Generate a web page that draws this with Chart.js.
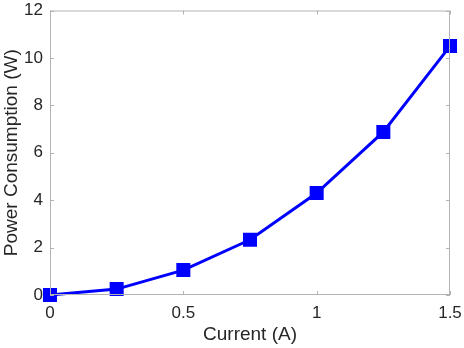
<!DOCTYPE html>
<html>
<head>
<meta charset="utf-8">
<script src="https://cdn.jsdelivr.net/npm/chart.js@4/dist/chart.umd.min.js"></script>
<style>
  html, body { margin: 0; padding: 0; background: #fff; }
  #wrap { width: 464px; height: 348px; }
</style>
</head>
<body>
<div id="wrap"><canvas id="chart"></canvas></div>
<script>
const current = [0, 0.25, 0.5, 0.75, 1.0, 1.25, 1.5];
const power = [0, 0.25, 1.05, 2.33, 4.3, 6.88, 10.5];
const xTicks = [0, 0.5, 1, 1.5];
const yTicks = [0, 2, 4, 6, 8, 10, 12];

const axisGray = '#b3b3b3';
const textColor = '#262626';

// MATLAB style box and inward ticks
const boxPlugin = {
  id: 'box',
  afterDraw(chart) {
    const { ctx, chartArea: a, scales } = chart;
    ctx.save();
    ctx.strokeStyle = axisGray;
    ctx.lineWidth = 1;
    ctx.strokeRect(a.left + 0.5, a.top + 0.5, a.right - a.left - 1, a.bottom - a.top - 1);
    ctx.beginPath();
    xTicks.forEach(v => {
      const px = Math.round(scales.x.getPixelForValue(v)) + 0.5;
      ctx.moveTo(px, a.bottom); ctx.lineTo(px, a.bottom - 4);
      ctx.moveTo(px, a.top); ctx.lineTo(px, a.top + 4);
    });
    yTicks.forEach(v => {
      const py = Math.round(scales.y.getPixelForValue(v)) + 0.5;
      ctx.moveTo(a.left, py); ctx.lineTo(a.left + 4, py);
      ctx.moveTo(a.right, py); ctx.lineTo(a.right - 4, py);
    });
    ctx.stroke();
    ctx.restore();
  }
};

new Chart(document.getElementById('chart'), {
  type: 'line',
  data: {
    datasets: [{
      data: current.map((c, i) => ({ x: c, y: power[i] })),
      borderColor: '#0000ff',
      backgroundColor: '#0000ff',
      borderWidth: 3,
      pointStyle: 'rect',
      pointRadius: 8.5,
      pointBorderWidth: 2,
      pointHoverRadius: 8.5,
      tension: 0,
      clip: false
    }]
  },
  options: {
    responsive: true,
    maintainAspectRatio: false,
    animation: false,
    events: [],
    layout: { padding: { top: 8, right: 14, left: 0, bottom: 0 } },
    plugins: { legend: { display: false }, tooltip: { enabled: false } },
    scales: {
      x: {
        type: 'linear',
        min: 0, max: 1.5,
        afterBuildTicks: s => { s.ticks = xTicks.map(v => ({ value: v })); },
        afterFit: s => { s.height = 53; s.paddingLeft = 0; s.paddingRight = 0; },
        grid: { display: false, drawTicks: false },
        border: { display: false },
        ticks: {
          color: textColor, padding: 8,
          font: { family: 'Liberation Sans', size: 17 },
          maxRotation: 0,
          callback: v => String(v)
        },
        title: {
          display: true, text: 'Current (A)', color: textColor,
          font: { family: 'Liberation Sans', size: 19 }, padding: { top: 0, bottom: 2 }
        }
      },
      y: {
        min: 0, max: 12,
        afterBuildTicks: s => { s.ticks = yTicks.map(v => ({ value: v })); },
        afterFit: s => { s.width = 50; s.paddingTop = 0; s.paddingBottom = 0; },
        grid: { display: false, drawTicks: false },
        border: { display: false },
        ticks: {
          color: textColor, padding: 7,
          font: { family: 'Liberation Sans', size: 17 }
        },
        title: {
          display: true, text: 'Power Consumption (W)', color: textColor,
          font: { family: 'Liberation Sans', size: 19 }, padding: { top: 0, bottom: 0 }
        }
      }
    }
  },
  plugins: [boxPlugin]
});
</script>
</body>
</html>
